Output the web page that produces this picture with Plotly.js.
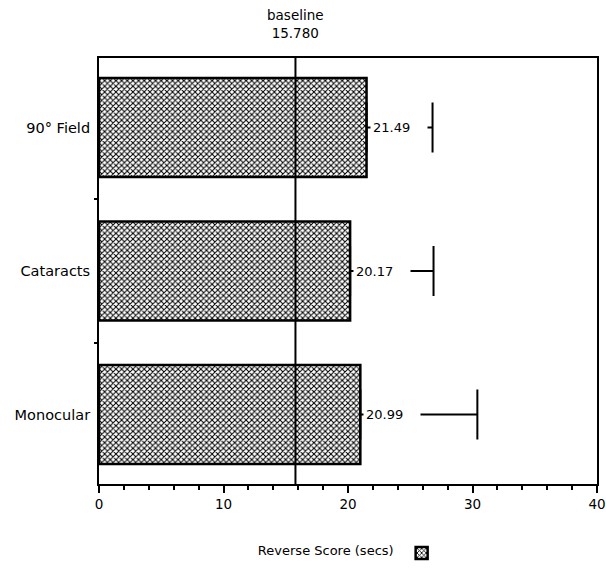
<!DOCTYPE html>
<html>
<head>
<meta charset="utf-8">
<script src="https://cdn.plot.ly/plotly-3.0.1.min.js"></script>
<style>html,body{margin:0;padding:0;background:#fff;}#chart{width:606px;height:571px;}</style>
</head>
<body>
<div id="chart"></div>
<script>
// Data
const categories = ['90° Field', 'Cataracts', 'Monocular'];
const scores = [21.49, 20.17, 20.99];
const errorPlus = [5.3, 6.7, 9.4];
const baselineValue = 15.78;
const baselineLabel = 'baseline<br>15.780';
const seriesName = 'Reverse Score (secs)';
const xTicks = [0, 10, 20, 30, 40];

const FONT = 'DejaVu Sans, Liberation Sans, Arial, sans-serif';

const trace = {
  type: 'bar',
  orientation: 'h',
  y: categories,
  x: scores,
  name: '',
  width: 0.69,
  marker: {
    color: '#ffffff',
    line: {color: '#000', width: 2.5},
    pattern: {shape: 'x', fgcolor: '#000', bgcolor: '#fff', size: 4, solidity: 0.45}
  },
  error_x: {
    type: 'data', symmetric: false,
    array: errorPlus, arrayminus: scores.map(() => 0),
    color: '#000', thickness: 2, width: 25
  },
  hoverinfo: 'skip',
  showlegend: true
};

const valueLabels = categories.map((c, i) => ({
  x: scores[i], y: c, xref: 'x', yref: 'y',
  text: scores[i].toFixed(2),
  showarrow: false, xanchor: 'left', yanchor: 'middle',
  xshift: 3, align: 'left', width: 52, borderpad: 2,
  bgcolor: '#fff',
  font: {family: FONT, size: 13, color: '#000'}
}));

const layout = {
  width: 606, height: 571,
  margin: {l: 99, r: 9, t: 58, b: 87, autoexpand: false},
  paper_bgcolor: '#fff', plot_bgcolor: '#fff',
  font: {family: FONT, size: 13, color: '#000'},
  bargap: 0.31,
  xaxis: {
    range: [0, 40], tickvals: xTicks, ticktext: xTicks.map(String),
    ticks: 'outside', ticklen: 7, tickwidth: 2, tickcolor: '#000',
    minor: {dtick: 2, tick0: 0, ticks: 'outside', ticklen: 4, tickwidth: 2, tickcolor: '#000'},
    showline: true, linecolor: '#000', linewidth: 2, mirror: true,
    showgrid: false, zeroline: false,
    tickfont: {family: FONT, size: 13.5, color: '#000'}
  },
  yaxis: {
    type: 'category', categoryorder: 'array', categoryarray: categories,
    range: [2.484, -0.484],
    ticks: 'outside', tickson: 'boundaries', ticklen: 3, tickwidth: 2, tickcolor: '#000',
    showline: true, linecolor: '#000', linewidth: 2, mirror: true,
    showgrid: false, zeroline: false,
    ticklabelstandoff: 4,
    tickfont: {family: FONT, size: 14.5, color: '#000'}
  },
  shapes: [{
    type: 'line', xref: 'x', yref: 'paper',
    x0: baselineValue, x1: baselineValue, y0: 0, y1: 1,
    line: {color: '#000', width: 2}
  }],
  annotations: [{
    x: baselineValue, y: 1, xref: 'x', yref: 'paper',
    text: baselineLabel, showarrow: false, xanchor: 'center', yanchor: 'bottom',
    yshift: 15, font: {family: FONT, size: 13.5, color: '#000'}
  }].concat(valueLabels),
  showlegend: true,
  legend: {
    orientation: 'h', x: 0.315, xanchor: 'left', y: -0.162, yanchor: 'middle',
    title: {text: seriesName, side: 'left', font: {family: FONT, size: 13, color: '#000'}},
    font: {family: FONT, size: 13, color: '#000'},
    itemwidth: 30
  }
};

Plotly.newPlot('chart', [trace], layout, {displayModeBar: false, staticPlot: true});
</script>
</body>
</html>
